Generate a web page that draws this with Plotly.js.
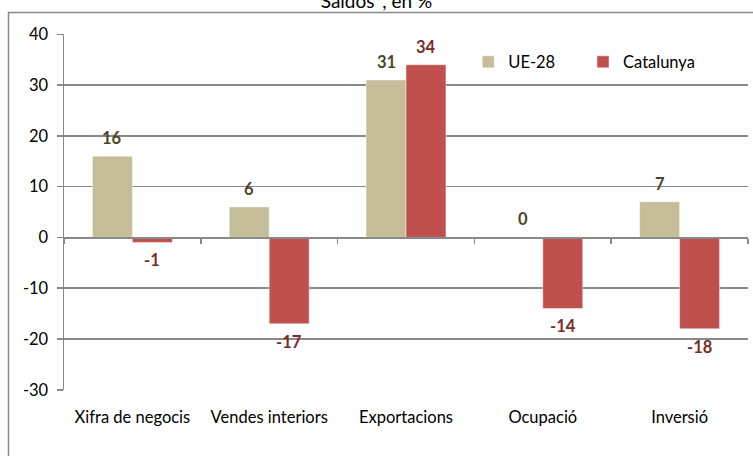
<!DOCTYPE html>
<html>
<head>
<meta charset="utf-8">
<script src="https://cdn.plot.ly/plotly-3.0.1.min.js"></script>
<style>html,body{margin:0;padding:0;background:#fff;}#chart{width:753px;height:456px;}</style>
</head>
<body>
<div id="chart"></div>
<script>
var categories = ['Xifra de negocis', 'Vendes interiors', 'Exportacions', 'Ocupació', 'Inversió'];
var ue28 = [16, 6, 31, 0, 7];
var catalunya = [-1, -17, 34, -14, -18];
var seriesNames = ['UE-28', 'Catalunya'];
var yTicks = [-30, -20, -10, 0, 10, 20, 30, 40];

var grey = '#898989';
var font = 'Lato, "Open Sans", sans-serif';

var traces = [
  {type: 'bar', name: seriesNames[0], x: categories, y: ue28, legend: 'legend',
   marker: {color: '#C4BD97', line: {color: 'rgba(255,255,255,0.45)', width: 1}},
   hoverinfo: 'skip'},
  {type: 'bar', name: seriesNames[1], x: categories, y: catalunya, legend: 'legend2',
   marker: {color: '#C0504D', line: {color: 'rgba(255,255,255,0.45)', width: 1}},
   hoverinfo: 'skip'},
  {type: 'scatter', mode: 'markers', x: categories, y: categories.map(function(){return 0;}),
   xaxis: 'x2', yaxis: 'y', marker: {opacity: 0}, showlegend: false, hoverinfo: 'skip'}
];

var annotations = [];
function addLabels(vals, shift, color) {
  vals.forEach(function(v, i) {
    annotations.push({x: categories[i], y: v, xref: 'x', yref: 'y', text: String(v),
      showarrow: false, xshift: shift, yshift: v >= 0 ? 18 : -18,
      font: {family: font, size: 16.5, color: color, weight: 'bold'}});
  });
}
addLabels(ue28, -20, '#4A4529');
addLabels(catalunya, 20, '#772C2A');

var legendBase = {orientation: 'h', xanchor: 'left', y: 0.921, yanchor: 'middle',
  bgcolor: 'rgba(0,0,0,0)', font: {family: font, size: 16.5, color: '#000'}, itemwidth: 30};

var layout = {
  width: 753, height: 456,
  margin: {l: 64, r: 5, t: 34, b: 66},
  paper_bgcolor: '#fff', plot_bgcolor: 'rgba(0,0,0,0)',
  font: {family: font, size: 16, color: '#000'},
  title: {text: 'Saldos*, en %', x: 0.5, xanchor: 'center', y: 0.998, yref: 'container', yanchor: 'middle',
          font: {family: font, size: 19, color: '#000'}},
  barmode: 'group', bargap: 0.416, bargroupgap: 0,
  showlegend: true,
  legend: Object.assign({}, legendBase, {x: 0.591}),
  legend2: Object.assign({}, legendBase, {x: 0.7588}),
  xaxis: {type: 'category', categoryarray: categories, categoryorder: 'array',
          range: [-0.5, 4.5], anchor: 'free', position: 30/70,
          showline: true, linecolor: grey, linewidth: 1.5,
          ticks: 'outside', tickson: 'boundaries', ticklen: 5, tickcolor: grey, tickwidth: 1.5,
          showticklabels: false, showgrid: false, zeroline: false, fixedrange: true},
  xaxis2: {type: 'category', categoryarray: categories, categoryorder: 'array',
           range: [-0.5, 4.5], overlaying: 'x', side: 'bottom', anchor: 'y',
           showline: false, ticks: '', showgrid: false, zeroline: false,
           ticklabelstandoff: 15, tickfont: {family: font, size: 16.5, color: '#000'}},
  yaxis: {range: [-30.05, 40.05], tickvals: yTicks, ticktext: yTicks.map(String),
          showgrid: true, gridcolor: grey, gridwidth: 1.5, zeroline: false,
          showline: true, linecolor: grey, linewidth: 1.5,
          ticks: 'outside', ticklen: 6, tickcolor: grey, tickwidth: 1.5,
          ticklabelstandoff: 5, tickfont: {family: font, size: 16.5, color: '#000'}},
  annotations: annotations,
  shapes: [{type: 'rect', xref: 'paper', yref: 'paper', layer: 'below',
            x0: (8.5 - 64) / 684, x1: 1.5, y0: -0.5, y1: 1 + (34 - 12.5) / 356,
            line: {color: grey, width: 1.5}, fillcolor: 'rgba(0,0,0,0)'}]
};

Plotly.newPlot('chart', traces, layout, {displayModeBar: false, staticPlot: true});
</script>
</body>
</html>
